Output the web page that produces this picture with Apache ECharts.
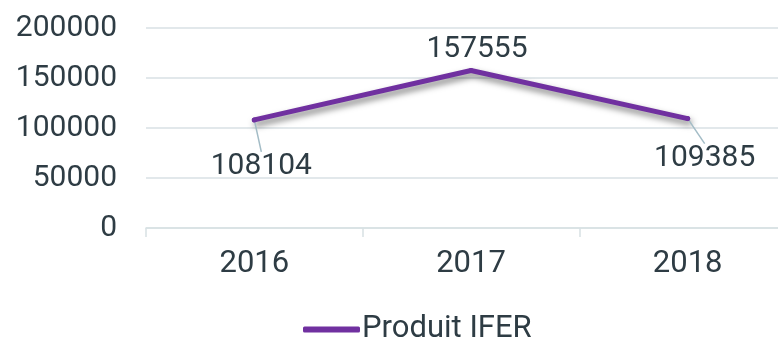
<!DOCTYPE html>
<html>
<head>
<meta charset="utf-8">
<script src="https://cdn.jsdelivr.net/npm/echarts@6/dist/echarts.min.js"></script>
<style>
  html, body { margin: 0; padding: 0; background: #ffffff; }
  #chart { width: 778px; height: 339px; }
</style>
</head>
<body>
<div id="chart"></div>
<script>
// Annual IFER revenue
var years = ['2016', '2017', '2018'];
var produitIfer = [108104, 157555, 109385];
var yTicks = { min: 0, max: 200000, interval: 50000 };
var seriesName = 'Produit IFER';

// where each value label sits relative to its point, and whether it gets a leader line
var labelShift = [
  { dx: 7, dy: 47, leader: true },
  { dx: 6, dy: -21, leader: false },
  { dx: 17, dy: 40, leader: true }
];

var textColor = '#2e3c44';
var gridColor = '#d8e1e4';
var lineColor = '#7030a0';
var fontFamily = 'Roboto, "DejaVu Sans", sans-serif';

var chart = echarts.init(document.getElementById('chart'), null, { renderer: 'canvas' });

chart.setOption({
  animation: false,
  backgroundColor: '#ffffff',
  textStyle: { fontFamily: fontFamily },
  // plot area runs past the right edge of the canvas
  grid: { left: 146, top: 28, width: 650, height: 200, containLabel: false, outerBoundsMode: 'none' },
  xAxis: {
    type: 'category',
    data: years,
    boundaryGap: true,
    axisLine: { show: true, lineStyle: { color: gridColor, width: 1.5 } },
    axisTick: { show: true, length: 9, lineStyle: { color: gridColor, width: 1.5 } },
    axisLabel: { color: textColor, fontSize: 31, margin: 21, fontFamily: fontFamily }
  },
  yAxis: {
    type: 'value',
    min: yTicks.min,
    max: yTicks.max,
    interval: yTicks.interval,
    axisLine: { show: false },
    axisTick: { show: false },
    splitLine: { show: true, lineStyle: { color: gridColor, width: 1.5 } },
    axisLabel: {
      color: textColor, fontSize: 30, margin: 29, fontFamily: fontFamily,
      formatter: function (v) { return String(v); }
    }
  },
  legend: {
    left: 298,
    top: 309,
    itemWidth: 57,
    itemHeight: 6,
    icon: 'roundRect',
    textStyle: { color: textColor, fontSize: 31, padding: [0, 0, 0, -3], fontFamily: fontFamily },
    data: [seriesName]
  },
  series: [{
    name: seriesName,
    type: 'line',
    data: produitIfer.map(function (v, i) {
      return {
        value: v,
        labelLine: { show: labelShift[i].leader }
      };
    }),
    color: lineColor,
    symbol: 'circle',
    symbolSize: 5,
    showSymbol: true,
    itemStyle: { color: lineColor },
    lineStyle: {
      color: lineColor,
      width: 5,
      cap: 'round',
      join: 'round',
      shadowColor: 'rgba(0,0,0,0.5)',
      shadowBlur: 6,
      shadowOffsetX: 2,
      shadowOffsetY: 4
    },
    label: {
      show: true,
      position: 'inside',
      color: textColor,
      fontSize: 30,
      fontFamily: fontFamily,
      padding: [4, 0, 0, 0]
    },
    labelLine: {
      show: true,
      lineStyle: { color: '#a3bcc6', width: 1.5 }
    },
    labelLayout: function (params) {
      var s = labelShift[params.dataIndex];
      return { dx: s.dx, dy: s.dy };
    }
  }]
});
</script>
</body>
</html>
